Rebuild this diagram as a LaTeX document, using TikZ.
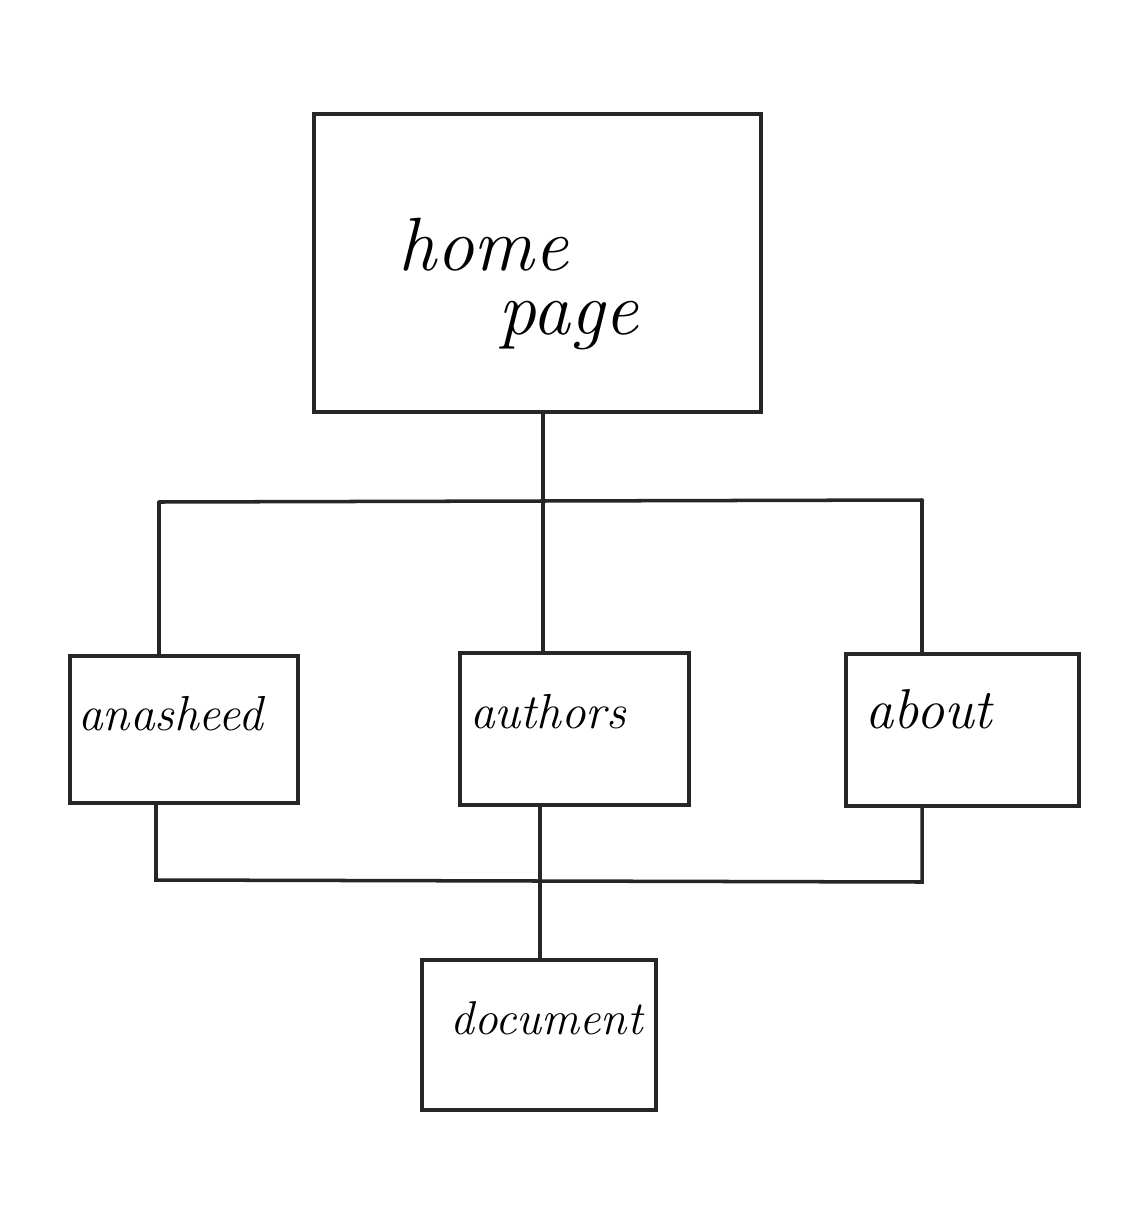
\documentclass[tikz,border=0pt]{standalone}
\begin{document}
\begin{tikzpicture}[x=0.02cm,y=-0.02cm,
  box/.style={draw=black!85,line width=2pt,rectangle,inner sep=0pt},
  wire/.style={draw=black!85,line width=2pt,line cap=round},
  big/.style={font=\fontsize{43}{47}\selectfont\itshape,anchor=base west,inner sep=0pt},
  lbl/.style={font=\fontsize{28}{32}\selectfont\itshape,anchor=base west,inner sep=0pt}]
\useasboundingbox[fill=white] (0,0) rectangle (1124,1224);
\node[box,minimum width=8.94cm,minimum height=5.96cm] (home) at (537.5,263) {};
\node[box,minimum width=4.56cm,minimum height=2.94cm] (anasheed) at (184,729.5) {};
\node[box,minimum width=4.58cm,minimum height=3.04cm] (authors) at (574.5,729) {};
\node[box,minimum width=4.66cm,minimum height=3.04cm] (about) at (962.5,730) {};
\node[box,minimum width=4.68cm,minimum height=3.00cm] (document) at (539,1035) {};
\node[big] (thome) at (398,270) {home};
\node[big] (tpage) at (498,334) {page};
\node[lbl] (tanasheed) at (78,730) {anasheed};
\node[lbl] (tauthors) at (470,728) {authors};
\node[lbl,font=\fontsize{32}{36}\selectfont\itshape] (tabout) at (865,728) {about};
\node[lbl,font=\fontsize{27}{31}\selectfont\itshape] (tdocument) at (450,1034) {document};
\coordinate (jtop) at (543,501);
\coordinate (jl) at (159,502);
\coordinate (jr) at (922,500);
\coordinate (bl) at (156,880);
\coordinate (br) at (922,882);
\coordinate (jb) at (540,881);
\draw[wire] (jtop |- home.south) -- (jtop |- authors.north);
\draw[wire] (jl) -- (jr);
\draw[wire] (jl) -- (jl |- anasheed.north);
\draw[wire] (jr) -- (jr |- about.north);
\draw[wire] (bl |- anasheed.south) -- (bl) -- (br) -- (br |- about.south);
\draw[wire] (jb |- authors.south) -- (jb |- document.north);
\end{tikzpicture}
\end{document}
